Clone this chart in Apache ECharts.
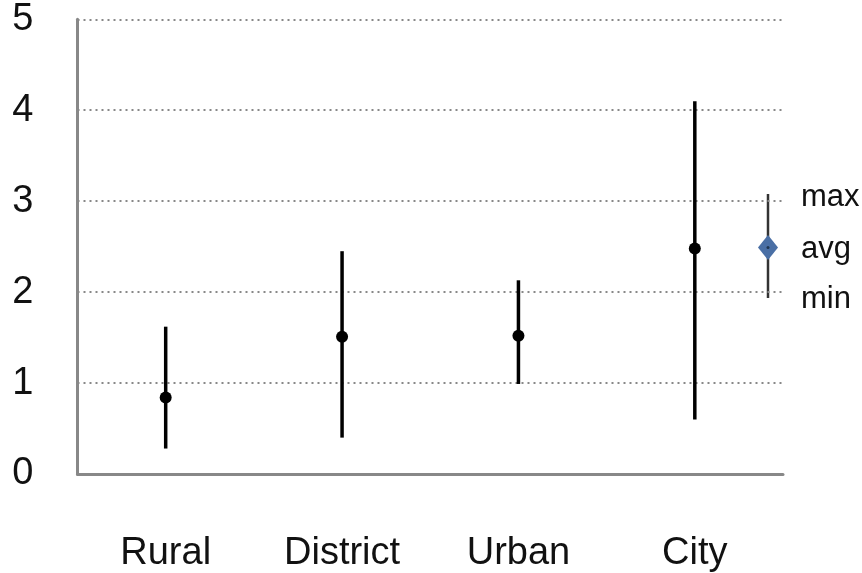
<!DOCTYPE html>
<html>
<head>
<meta charset="utf-8">
<script src="https://cdn.jsdelivr.net/npm/echarts@6/dist/echarts.min.js"></script>
<style>html,body{margin:0;padding:0;background:#fff;}#c{width:862px;height:573px;}</style>
</head>
<body>
<div id="c"></div>
<script>
const categories = ['Rural', 'District', 'Urban', 'City'];
const maxValues = [1.62, 2.45, 2.13, 4.10];
const avgValues = [0.84, 1.51, 1.52, 2.48];
const minValues = [0.28, 0.40, 0.99, 0.60];
const legendLabels = ['max', 'avg', 'min'];

const FONT = '"Liberation Sans", Arial, sans-serif';
const chart = echarts.init(document.getElementById('c'));

const rangeData = categories.map((c, i) => [i, minValues[i], maxValues[i]]);

chart.setOption({
  animation: false,
  backgroundColor: '#fff',
  grid: { left: 77.5, right: 79, top: 19.3, bottom: 98.7, containLabel: false },
  xAxis: {
    type: 'category',
    data: categories,
    boundaryGap: true,
    axisLine: { show: true, lineStyle: { color: '#888', width: 3 } },
    axisTick: { show: false },
    axisLabel: { margin: 80, fontSize: 38, fontFamily: FONT, color: '#111', verticalAlign: 'middle' },
    splitLine: { show: false }
  },
  yAxis: {
    type: 'value',
    min: 0, max: 5, interval: 1,
    axisLine: { show: true, lineStyle: { color: '#888', width: 3 } },
    axisTick: { show: false },
    axisLabel: { margin: 44, fontSize: 38, fontFamily: FONT, color: '#111', verticalAlign: 'middle' },
    splitLine: { show: true, lineStyle: { color: '#888', width: 2, type: [2, 4] } }
  },
  series: [
    {
      type: 'custom',
      data: rangeData,
      renderItem: function (params, api) {
        const x = api.value(0);
        const lo = api.coord([x, api.value(1)]);
        const hi = api.coord([x, api.value(2)]);
        return {
          type: 'line',
          shape: { x1: lo[0], y1: lo[1], x2: hi[0], y2: hi[1] },
          style: { stroke: '#000', lineWidth: 3.5 }
        };
      },
      z: 3
    },
    {
      type: 'scatter',
      data: avgValues.map((v, i) => [i, v]),
      symbol: 'circle',
      symbolSize: 12,
      itemStyle: { color: '#000', opacity: 1 },
      z: 4
    }
  ],
  graphic: [
    { type: 'line', shape: { x1: 768, y1: 194, x2: 768, y2: 298 }, style: { stroke: '#333', lineWidth: 2.5 } },
    { type: 'polygon', shape: { points: [[768, 235], [778, 247.5], [768, 260], [758, 247.5]] }, style: { fill: '#4a6fa5' } },
    { type: 'circle', shape: { cx: 768, cy: 247.5, r: 1.5 }, style: { fill: '#1f3550' } },
    { type: 'text', left: 801, top: 182, style: { text: legendLabels[0], font: '31px ' + FONT, fill: '#111' } },
    { type: 'text', left: 801, top: 234, style: { text: legendLabels[1], font: '31px ' + FONT, fill: '#111' } },
    { type: 'text', left: 801, top: 284, style: { text: legendLabels[2], font: '31px ' + FONT, fill: '#111' } }
  ]
});
</script>
</body>
</html>
